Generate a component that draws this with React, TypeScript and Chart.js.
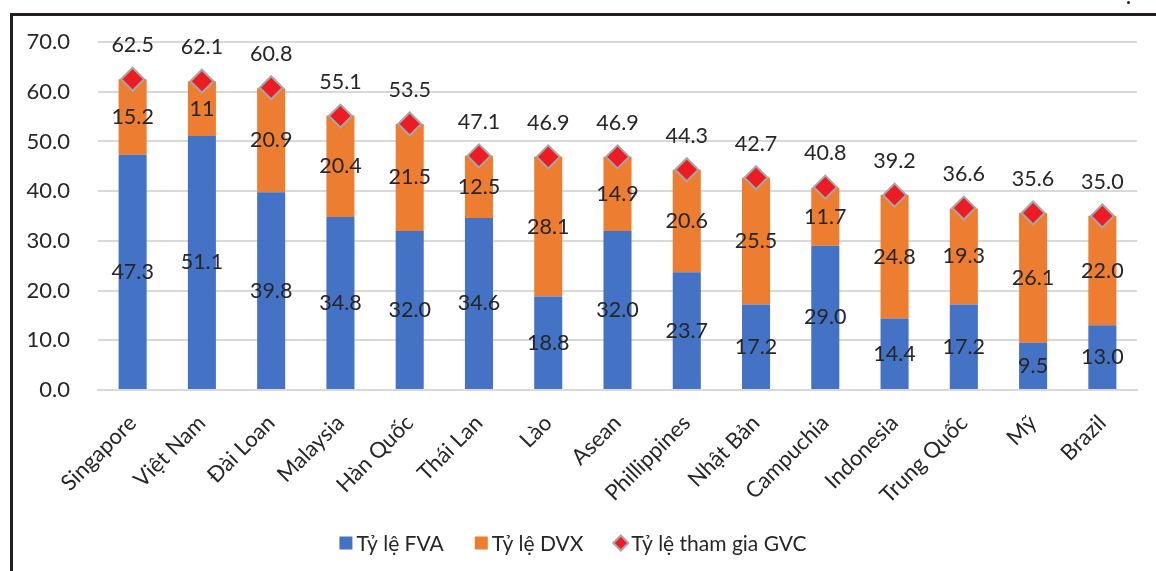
import React, { useEffect, useRef } from "react";
import { Chart, registerables } from "chart.js";

Chart.register(...registerables);

const categories = [
  "Singapore", "Việt Nam", "Đài Loan", "Malaysia", "Hàn Quốc", "Thái Lan", "Lào",
  "Asean", "Phillippines", "Nhật Bản", "Campuchia", "Indonesia", "Trung Quốc", "Mỹ", "Brazil",
];
const fvaValues = [47.3, 51.1, 39.8, 34.8, 32.0, 34.6, 18.8, 32.0, 23.7, 17.2, 29.0, 14.4, 17.2, 9.5, 13.0];
const dvxValues = [15.2, 11, 20.9, 20.4, 21.5, 12.5, 28.1, 14.9, 20.6, 25.5, 11.7, 24.8, 19.3, 26.1, 22.0];
const gvcValues = [62.5, 62.1, 60.8, 55.1, 53.5, 47.1, 46.9, 46.9, 44.3, 42.7, 40.8, 39.2, 36.6, 35.6, 35.0];
const fvaLabels = ["47.3", "51.1", "39.8", "34.8", "32.0", "34.6", "18.8", "32.0", "23.7", "17.2", "29.0", "14.4", "17.2", "9.5", "13.0"];
const dvxLabels = ["15.2", "11", "20.9", "20.4", "21.5", "12.5", "28.1", "14.9", "20.6", "25.5", "11.7", "24.8", "19.3", "26.1", "22.0"];
const gvcLabels = ["62.5", "62.1", "60.8", "55.1", "53.5", "47.1", "46.9", "46.9", "44.3", "42.7", "40.8", "39.2", "36.6", "35.6", "35.0"];
const yTicks = [0, 10, 20, 30, 40, 50, 60, 70];

const FONT = "Lato, 'Open Sans', sans-serif";
const TEXT = "#262626";
const BLUE = "#4472C4";
const ORANGE = "#ED7D31";
const RED = "#ED1C24";
const GREY = "#A6A6A6";

const labelPlugin = {
  id: "valueLabels",
  afterDatasetsDraw(chart: any) {
    const ctx = chart.ctx;
    ctx.save();
    ctx.font = `21.5px ${FONT}`;
    ctx.fillStyle = TEXT;
    ctx.textAlign = "center";
    ctx.textBaseline = "middle";
    const all = [fvaLabels, dvxLabels, gvcLabels];
    chart.data.datasets.forEach((ds: any, di: number) => {
      const meta = chart.getDatasetMeta(di);
      meta.data.forEach((el: any, i: number) => {
        const txt = all[di][i];
        if (di < 2) {
          ctx.fillText(txt, el.x, (el.y + el.base) / 2);
        } else {
          ctx.fillText(txt, el.x, el.y - 34);
        }
      });
    });
    ctx.restore();
  },
};

const legendPlugin = {
  id: "customLegend",
  afterDraw(chart: any) {
    const ctx = chart.ctx;
    ctx.save();
    ctx.font = `21px ${FONT}`;
    ctx.textBaseline = "middle";
    ctx.textAlign = "left";
    const y = 543;
    const box = 13;
    const gapText = 4;
    const gapItem = 31;
    const items = chart.data.datasets.map((ds: any) => ({ text: ds.label, ds }));
    const widths = items.map((it: any) => box + gapText + ctx.measureText(it.text).width);
    const total = widths.reduce((a: number, b: number) => a + b, 0) + gapItem * (items.length - 1);
    let x = chart.width / 2 - 5 - total / 2;
    items.forEach((it: any, i: number) => {
      if (it.ds.type === "line") {
        const cx = x + box / 2;
        const r = 7.5;
        ctx.beginPath();
        ctx.moveTo(cx - r, y);
        ctx.lineTo(cx, y - r);
        ctx.lineTo(cx + r, y);
        ctx.lineTo(cx, y + r);
        ctx.closePath();
        ctx.fillStyle = RED;
        ctx.fill();
        ctx.strokeStyle = GREY;
        ctx.lineWidth = 2;
        ctx.stroke();
      } else {
        ctx.fillStyle = it.ds.backgroundColor;
        ctx.fillRect(x, y - box / 2, box, box);
      }
      ctx.fillStyle = TEXT;
      ctx.fillText(it.text, x + box + gapText, y + 1);
      x += widths[i] + gapItem;
    });
    ctx.restore();
  },
};

export default function App() {
  const ref = useRef<HTMLCanvasElement | null>(null);
  useEffect(() => {
    document.body.style.margin = "0";
    const chart = new Chart(ref.current as HTMLCanvasElement, {
      type: "bar",
      data: {
        labels: categories,
        datasets: [
          {
            type: "bar",
            label: "Tỷ lệ FVA",
            data: fvaValues,
            backgroundColor: BLUE,
            barPercentage: 0.405,
            categoryPercentage: 1,
            stack: "s",
            order: 2,
          } as any,
          {
            type: "bar",
            label: "Tỷ lệ DVX",
            data: dvxValues,
            backgroundColor: ORANGE,
            barPercentage: 0.405,
            categoryPercentage: 1,
            stack: "s",
            order: 2,
          } as any,
          {
            type: "line",
            label: "Tỷ lệ tham gia GVC",
            data: gvcValues,
            showLine: false,
            backgroundColor: RED,
            borderColor: GREY,
            borderWidth: 2,
            pointStyle: "rectRot",
            pointRadius: 11.5,
            pointBackgroundColor: RED,
            pointBorderColor: GREY,
            pointBorderWidth: 2,
            order: 1,
          } as any,
        ],
      },
      options: {
        responsive: false,
        animation: false,
        layout: { padding: { top: 42, left: 14, right: 19, bottom: 0 } },
        plugins: {
          tooltip: { enabled: false },
          legend: { display: false },
        },
        scales: {
          x: {
            stacked: true,
            grid: { display: false, drawTicks: false },
            border: { display: true, color: "#D9D9D9", width: 2 },
            ticks: {
              color: TEXT,
              font: { family: FONT, size: 22 },
              minRotation: 45,
              maxRotation: 45,
              padding: 20,
              autoSkip: false,
            },
            afterFit(scale: any) {
              scale.height = 181;
            },
          },
          y: {
            stacked: true,
            min: 0,
            max: 70,
            afterBuildTicks(scale: any) {
              scale.ticks = yTicks.map((v) => ({ value: v }));
            },
            grid: { color: "#D9D9D9", lineWidth: 2, drawTicks: false },
            border: { display: false },
            ticks: {
              color: TEXT,
              font: { family: FONT, size: 22 },
              padding: 28,
              callback: (v: any) => Number(v).toFixed(1),
            },
            afterFit(scale: any) {
              scale.width = 84;
            },
          },
        },
      },
      plugins: [labelPlugin, legendPlugin],
    } as any);
    return () => chart.destroy();
  }, []);

  return (
    <div style={{ position: "relative", width: 1156, height: 571, background: "#fff", overflow: "hidden" }}>
      <div
        style={{
          position: "absolute",
          left: 10,
          top: 13,
          right: -10,
          bottom: -10,
          borderLeft: "3px solid #231F20",
          borderTop: "3px solid #231F20",
        }}
      />
      <div style={{ position: "absolute", left: 1127, top: 1, width: 3, height: 3, borderRadius: 2, background: "#231F20" }} />
      <canvas ref={ref} width={1156} height={571} style={{ position: "absolute", left: 0, top: 0 }} />
    </div>
  );
}
